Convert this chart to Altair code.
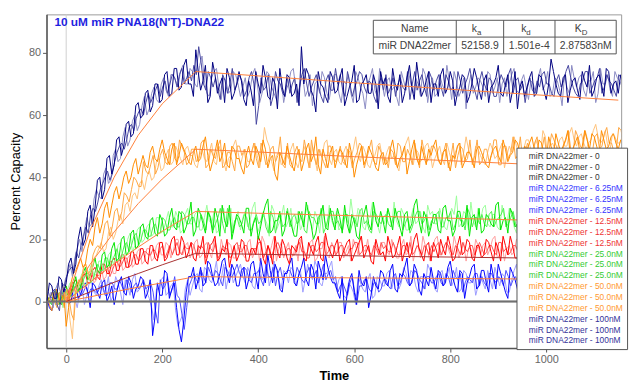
import altair as alt
import pandas as pd

# ---------------- data ----------------
T0, DT = -40, 10          # sampling grid of the sensorgrams (s); *_M arrays are the half-step samples
REP_OFFSET = [0, 3, 6]    # replicate time offsets (s)
CONC = ["0", "6.25nM", "12.5nM", "25.0nM", "50.0nM", "100nM"]

N100_A = [0,5,1,7,6,14,12,24,20,31, 30,40,36,47,44,53,50,58,54,64, 60,68,63,70,65,74,67,75,69,78,
          70,81,68,76,66,73,70,64,72,67, 74,65,71,63,70,76,66,72,62,69, 73,66,70,82,75,68,61,70,66,74,
          67,72,63,69,76,65,71,67,73,62, 70,66,75,68,64,72,69,77,66,71, 64,70,73,67,74,63,69,72,66,75,
          68,71,64,70,76,66,73,68,62,71, 69,74,67,72,65,78,70,66,73,68, 72,65,71,76,68,73,66,74,70,67]
N100_A_M = [6,1,8,3,12,9,20,18,29,24, 39,33,46,41,52,47,57,53,63,59, 67,61,70,64,73,66,75,68,76,70,
            66,74,71,64,77,67,72,75,65,70, 71,63,68,74,67,72,65,70,75,66, 72,67,63,70,73,66,74,69,64,72,
            68,75,66,71,64,70,73,67,70,74, 72,64,70,73,67,76,65,71,68,74, 70,66,75,69,71,67,73,64,70,72,
            65,73,69,72,67,70,64,74,69,66, 72,66,73,68,70,74,67,72,64,71, 68,74,69,66,72,70,75,67,71,73]
N100_B = [3,-2,6,2,9,8,17,16,27,25, 36,33,43,39,49,46,56,52,60,57, 66,62,69,64,72,66,73,69,76,70,
          74,69,79,67,72,75,65,71,68,73, 66,72,68,75,64,70,73,67,71,64, 70,75,65,72,68,63,71,74,67,70,
          73,64,70,67,74,69,62,72,68,75, 66,72,69,63,71,74,67,70,75,64, 72,67,70,76,65,71,68,62,73,69,
          71,66,73,69,64,72,70,75,67,73, 65,70,72,68,74,67,71,63,69,76, 69,73,66,71,64,75,70,68,74,71]
N100_B_M = [1,4,3,7,12,14,20,23,24,33, 34,41,38,47,45,53,50,58,55,63, 60,67,65,70,68,73,71,74,70,75,
            70,76,71,66,74,69,72,67,74,70, 69,66,73,70,67,74,69,65,72,68, 74,69,71,66,73,70,67,72,65,73,
            67,71,73,64,72,67,70,75,66,70, 71,68,66,74,68,70,72,66,73,69, 66,73,68,71,74,66,72,69,67,72,
            69,74,67,72,70,66,73,68,71,69, 71,67,75,70,66,72,68,73,67,72, 72,68,71,74,67,70,73,66,72,69]
N100_C = [1,4,-3,5,10,10,14,21,22,30, 32,38,42,41,48,51,52,57,59,62, 64,64,68,66,71,70,72,73,70,74,
          76,82,70,74,69,68,73,67,75,70, 71,68,74,57,72,69,63,74,70,66, 67,72,69,75,66,71,69,64,73,68,
          70,68,74,66,71,73,67,70,64,72, 73,69,66,72,68,65,74,71,69,74, 68,73,66,71,69,74,67,72,70,65,
          74,68,71,66,73,69,75,71,68,64, 72,67,69,74,70,66,73,71,76,69, 66,71,74,69,72,67,73,70,66,72]
N100_C_M = [3,-1,6,8,11,16,18,24,28,29, 36,40,39,45,50,49,56,55,61,60, 67,66,70,69,67,73,69,75,72,71,
            73,77,68,72,72,65,71,70,68,73, 66,72,70,63,68,73,66,71,67,72, 70,64,73,70,69,73,66,71,68,75,
            73,66,70,69,74,69,71,66,70,68, 67,72,70,69,74,70,68,73,66,72, 71,69,73,68,66,71,70,75,68,71,
            70,72,66,70,71,73,67,72,70,69, 68,71,73,70,67,71,69,74,72,67, 70,74,67,71,75,69,71,68,73,70]

N50_A = [2,-3,4,0,-8,6,10,14,12,20, 24,22,30,27,35,33,40,38,44,41, 47,43,50,45,52,46,49,44,51,47,
         44,50,46,53,42,48,45,51,43,49, 46,41,50,44,48,52,43,47,39,46, 50,44,47,42,49,45,53,41,46,48,
         43,49,45,51,40,47,44,50,46,42, 48,45,52,43,47,41,49,46,50,44, 47,52,44,49,42,46,51,45,48,43,
         50,46,43,49,47,52,45,48,51,46, 49,53,47,51,45,50,54,48,52,47, 51,48,55,49,53,47,52,50,54,49]
N50_A_M = [-1,2,1,3,-2,9,12,11,17,18, 27,25,32,31,37,36,42,40,46,44, 44,48,46,49,48,44,51,47,49,45,
           48,45,50,47,45,52,47,44,50,46, 43,47,46,50,45,49,46,41,48,44, 47,42,49,45,51,47,44,49,43,50,
           46,48,43,47,44,50,46,48,43,47, 44,49,47,46,50,45,52,44,47,49, 50,46,48,45,47,50,43,48,46,49,
           48,44,47,50,45,49,47,52,48,50, 51,49,52,48,53,47,51,50,55,49, 53,50,52,54,50,55,49,53,51,52]
N50_B = [0,3,-1,5,2,-12,4,8,11,9, 15,19,17,24,22,28,31,29,35,38, 36,42,40,46,43,49,45,48,44,50,
         47,43,49,45,51,44,48,42,47,52, 44,49,45,51,43,56,50,42,48,45, 46,51,43,48,45,50,42,47,52,44,
         49,44,50,46,53,45,48,43,47,51, 45,50,47,42,49,53,44,48,46,51, 43,48,46,51,45,49,44,53,47,50,
         47,44,51,46,49,43,50,53,46,49, 52,48,50,55,47,51,49,53,50,56, 50,54,49,52,57,51,55,49,53,51]
N50_B_M = [2,0,3,1,-6,2,6,12,7,14, 17,16,22,20,26,25,32,34,33,39, 40,39,45,42,47,44,50,46,49,47,
           44,47,46,48,45,50,45,46,50,48, 47,45,49,47,48,52,45,47,44,48, 49,45,47,50,43,46,49,51,46,48,
           45,48,47,49,47,50,44,46,50,47, 48,46,44,47,51,47,49,45,50,48, 46,50,44,48,47,51,48,49,45,49,
           45,48,49,47,51,47,48,50,49,52, 49,52,47,53,50,49,52,50,54,52, 53,51,51,55,53,52,50,54,51,53]
N50_C = [1,0,3,-2,1,-6,7,11,9,15, 18,21,26,24,30,29,34,36,39,37, 42,44,41,47,45,50,46,52,48,45,
         49,46,52,44,47,50,43,48,45,50, 47,43,48,46,51,44,49,45,53,43, 44,48,46,52,43,47,49,45,50,46,
         47,45,49,43,48,50,46,52,44,48, 46,49,44,50,45,47,51,43,48,46, 50,45,48,43,51,47,49,46,44,52,
         45,49,47,52,44,50,48,46,53,48, 48,51,46,53,49,52,47,50,55,48, 53,49,52,48,54,50,56,51,49,55]
N50_C_M = [3,-2,2,4,-4,5,6,12,10,17, 17,25,21,29,26,35,32,40,37,45, 41,47,43,49,44,51,45,50,44,49,
           45,51,43,49,46,52,44,48,42,50, 49,44,51,43,48,45,50,47,44,51, 43,50,45,48,52,44,47,43,50,45,
           50,44,48,46,51,43,49,45,50,44, 43,48,51,45,49,44,47,52,45,50, 48,44,51,46,43,50,45,52,47,44,
           49,45,52,44,50,46,53,47,45,51, 46,53,49,47,54,50,46,52,49,55, 50,55,47,53,49,54,51,48,56,50]

N25_A = [2,-1,4,1,5,2,8,5,11,8, 14,9,16,12,19,14,21,16,23,18, 25,20,27,21,26,22,30,23,28,24,
         32,23,28,22,27,30,21,26,31,24, 27,22,30,25,20,28,33,23,26,21, 29,24,21,27,32,25,22,28,24,30,
         23,27,31,22,26,20,28,25,32,24, 26,30,23,27,21,29,25,33,22,27, 24,28,22,31,26,23,29,25,21,28,
         30,23,27,24,32,26,22,28,25,31, 25,29,23,27,31,24,28,22,26,30, 27,24,30,26,22,29,25,31,27,24]
N25_A_M = [0,3,-1,4,1,5,3,9,7,11, 10,15,11,17,13,20,15,22,17,24, 21,26,22,28,21,27,24,29,22,27,
           21,30,25,29,22,27,31,24,20,28, 25,30,21,27,24,31,22,26,29,23, 27,21,29,24,28,20,27,31,23,26,
           30,22,25,28,21,27,31,23,26,29, 22,27,30,24,28,23,31,26,29,21, 28,23,30,26,21,29,24,31,27,23,
           22,28,25,31,23,27,30,24,21,27, 30,22,27,25,29,21,26,30,23,28, 23,29,25,22,28,24,30,26,23,28]
N25_B = [0,3,1,-2,4,6,3,9,6,12, 9,13,11,16,14,19,16,22,18,24, 20,25,22,27,23,29,24,27,23,30,
         25,29,23,31,25,22,28,24,30,26, 23,29,26,32,24,27,21,29,25,31, 26,22,29,25,31,23,27,30,24,26,
         29,24,27,33,25,29,23,27,30,22, 25,28,32,24,28,23,30,26,24,31, 29,25,27,23,30,34,25,28,32,24,
         26,31,24,28,23,27,30,24,29,26, 28,24,32,26,29,25,31,27,24,29, 25,30,27,32,26,28,24,30,26,29]
N25_B_M = [2,-1,3,1,6,2,7,5,10,8, 13,10,15,12,18,14,20,16,23,19, 24,21,27,22,26,24,29,22,28,25,
           28,23,27,26,29,23,30,25,22,29, 27,24,30,22,28,25,31,23,27,24, 30,25,23,28,26,29,22,26,31,24,
           23,28,25,27,30,24,28,32,25,27, 29,24,26,30,23,27,25,29,22,28, 25,30,24,27,28,24,29,23,26,30,
           30,25,28,24,31,25,28,22,27,31, 25,29,27,23,30,28,24,29,31,25, 28,24,31,26,29,23,28,25,31,27]
N25_C = [1,0,3,2,1,4,6,7,9,7, 12,10,14,13,17,15,19,18,22,20, 23,21,25,22,26,23,27,24,28,25,
         27,24,26,29,23,27,25,30,22,27, 25,27,23,28,26,24,29,22,28,25, 24,28,26,23,29,27,25,22,27,29,
         26,23,28,25,24,30,26,22,28,25, 28,24,27,29,25,22,27,29,26,23, 25,29,24,27,23,28,26,30,24,27,
         28,24,29,26,28,24,27,25,30,23, 26,28,25,30,24,27,29,25,28,26, 29,26,28,25,30,27,25,28,31,26]
N25_C_M = [3,2,-1,4,3,6,4,9,6,10, 10,14,11,15,13,18,16,21,18,23, 21,24,22,27,23,26,24,29,25,27,
           24,28,23,27,25,30,22,27,26,24, 28,23,26,25,29,22,27,26,24,30, 27,25,29,22,27,25,30,24,29,25,
           24,28,22,27,29,25,23,29,26,27, 25,27,29,23,27,24,29,25,28,26, 28,24,27,29,25,26,23,28,27,25,
           25,28,24,27,30,25,29,23,27,26, 28,24,29,26,25,29,26,28,23,29, 26,29,24,27,28,25,29,26,27,29]

N12_A = [2,0,4,-1,5,3,7,4,9,6, 11,7,12,9,14,10,15,11,16,12, 17,12,18,13,19,14,20,15,21,14,
         19,13,17,12,18,21,14,16,11,18, 15,19,13,17,21,14,18,12,16,20, 14,18,16,21,13,17,19,14,22,16,
         18,13,17,20,15,19,14,18,12,17, 16,21,14,18,13,19,16,22,15,18, 13,17,20,15,18,14,21,16,19,13,
         18,15,19,13,17,21,15,18,14,20, 16,20,14,18,22,15,19,13,17,21, 18,14,19,16,21,15,18,13,20,16]
N12_A_M = [0,3,1,4,2,6,4,8,6,10, 8,12,9,13,10,15,11,16,12,17, 13,18,14,19,13,17,21,15,19,16,
           14,18,21,15,19,13,17,20,15,13, 20,13,17,15,19,12,16,21,14,18, 12,17,20,14,19,15,21,13,18,14,
           20,15,19,13,17,21,16,13,20,15, 13,18,15,21,16,14,20,17,13,19, 19,14,17,21,13,18,15,20,14,18,
           14,20,16,19,13,18,21,14,19,16, 19,13,17,21,15,18,14,20,16,14, 14,19,16,20,13,18,15,21,16,19]
N12_B = [0,3,1,4,2,6,3,8,5,10, 7,11,8,13,9,14,11,15,12,17, 13,17,14,19,15,18,16,20,15,19,
         16,20,15,19,14,17,20,15,18,14, 18,14,20,16,13,19,15,21,17,14, 19,15,13,18,16,20,14,17,15,19,
         15,19,16,13,18,21,16,14,19,15, 19,15,18,14,20,16,13,18,21,16, 17,21,15,19,14,18,16,13,17,20,
         15,19,17,21,15,13,18,16,20,15, 18,15,20,16,13,18,21,16,14,19, 15,20,16,18,14,19,16,21,15,18]
N12_B_M = [2,0,3,1,5,3,7,4,9,6, 10,7,12,9,13,10,14,11,16,12, 17,13,18,15,19,14,20,16,18,14,
           19,14,18,16,20,13,17,19,14,18, 15,19,14,18,21,15,18,13,19,17, 14,18,20,15,19,13,17,21,14,17,
           19,14,18,20,15,17,20,15,17,19, 16,20,14,18,15,21,17,14,18,13, 20,15,18,16,21,14,19,17,14,18,
           18,15,20,14,19,17,15,20,13,18, 15,20,16,19,14,20,16,19,17,15, 19,16,21,14,18,15,20,14,19,16]
N12_C = [1,2,0,3,4,4,6,6,8,8, 10,9,11,10,13,12,14,12,15,14, 16,15,16,17,14,18,17,16,18,17,
         18,15,17,19,16,14,18,17,15,19, 16,18,15,17,19,16,14,18,17,15, 17,15,19,16,14,18,17,19,16,18,
         16,18,15,17,19,16,18,15,17,19, 18,16,17,15,18,19,16,17,18,15, 16,19,17,18,15,17,19,16,18,17,
         17,16,18,15,19,17,16,18,15,17, 19,17,16,18,15,17,18,16,19,17, 16,18,17,19,16,15,18,17,16,18]
N12_C_M = [0,3,2,1,5,3,7,5,9,7, 9,11,8,12,11,14,11,15,13,16, 15,17,14,18,16,15,19,15,17,19,
           15,18,14,17,19,15,17,14,18,16, 18,15,17,19,14,18,16,19,15,17, 15,18,16,14,18,16,19,15,18,15,
           18,15,17,19,15,18,16,18,15,17, 16,19,15,18,16,15,18,15,17,18, 18,15,19,16,18,15,17,18,15,19,
           15,18,16,19,16,15,18,16,18,15, 17,15,19,16,18,15,17,19,16,18, 18,15,19,16,18,17,15,19,17,16]

N6_A = [1,-3,3,-1,4,0,5,2,6,-2, 5,1,7,2,-1,6,3,8,1,5, 7,3,-11,6,2,9,4,-2,-13,3,
        8,4,11,6,12,5,9,14,6,10, 5,11,7,13,4,9,15,6,10,3, 9,14,5,11,7,12,4,10,15,8,
        6,1,-4,7,3,10,5,-2,8,4, 9,5,12,3,8,14,6,10,2,7, 11,4,9,6,13,5,10,1,8,12,
        5,10,3,8,12,6,1,9,4,11, 7,3,10,5,12,8,2,9,6,11, 4,9,6,12,3,8,11,5,10,7]
N6_A_M = [-2,2,0,3,-1,4,1,5,3,6, 3,6,0,5,3,8,2,6,4,8, 1,7,-5,2,10,1,6,-9,-6,8,
          11,7,5,13,8,6,13,9,12,5, 10,4,12,8,14,6,10,12,4,9, 12,6,9,14,5,10,13,7,11,6,
          3,8,2,9,-1,6,8,2,5,10, 6,10,4,9,11,5,12,4,9,5, 7,10,5,11,8,3,9,6,11,4,
          10,6,12,4,9,3,11,7,12,5, 9,6,11,4,9,5,12,7,10,4, 10,5,11,7,9,5,12,8,4,10]
N6_B = [0,2,-1,4,1,3,-2,5,2,6, 2,7,4,0,8,3,7,2,9,4, 6,1,-6,4,8,3,6,-8,-4,7,
        5,9,3,10,6,13,7,4,11,8, 12,6,9,4,11,8,5,13,7,10, 6,10,8,3,12,7,11,5,9,13,
        4,8,1,5,-1,6,3,9,2,7, 5,10,7,4,11,6,9,3,8,12, 7,3,10,8,5,11,4,9,6,2,
        9,4,7,11,5,8,3,10,7,5, 4,9,6,2,10,7,11,5,8,3, 8,5,10,6,3,9,7,12,5,9]
N6_B_M = [3,-1,2,0,4,1,3,-1,6,3, 5,3,8,2,6,-1,5,7,3,6, 3,-2,4,7,2,5,-3,-6,4,2,
          8,4,11,7,9,5,12,8,6,10, 8,11,5,9,7,12,8,10,4,9, 11,5,10,7,9,13,6,9,11,6,
          7,2,6,3,8,4,7,1,8,5, 9,4,8,6,9,10,5,8,4,10, 4,9,6,11,7,3,10,6,8,5,
          6,10,4,8,9,3,7,12,5,8, 7,11,4,8,6,12,9,4,10,6, 5,11,7,4,9,6,10,8,11,5]
N6_C = [2,0,1,2,3,1,4,3,2,4, 3,5,2,6,4,5,7,3,6,5, 4,6,-3,7,5,2,8,1,-9,5,
        9,6,8,11,7,9,5,10,8,12, 8,10,6,9,7,12,8,5,11,9, 10,7,9,6,11,8,6,12,9,7,
        3,6,2,8,0,5,7,3,6,4, 7,4,9,6,8,5,10,7,4,8, 6,9,5,8,10,7,3,8,6,9,
        8,5,9,6,7,10,5,8,6,3, 6,8,5,9,7,4,8,10,6,7, 7,10,5,8,6,9,4,8,7,6]
N6_C_M = [1,3,0,4,2,3,2,5,4,3, 5,2,6,4,7,3,6,5,4,7, 5,3,-7,4,8,4,2,-4,-2,7,
          7,10,6,9,10,7,11,8,10,9, 11,7,9,10,5,8,11,9,7,10, 8,11,7,9,8,10,9,7,10,8,
          5,4,6,3,5,7,4,6,3,7, 5,8,5,9,6,7,9,6,8,6, 8,6,9,5,8,9,6,7,9,5,
          6,9,7,8,5,8,7,6,9,7, 9,6,8,6,9,7,6,9,7,8, 8,6,9,5,9,7,8,6,9,7]

ZERO_T = [-41, 1156]
ZERO_V = [0, 0]

FIT_T = [0, 50, 100, 150, 200, 270, 400, 600, 800, 1000, 1150]
FIT_100 = [0, 23, 40, 53.5, 63.6, 74, 72.6, 70.4, 68.3, 66.3, 64.8]
FIT_50 = [0, 12, 22.4, 31.5, 39.4, 49, 48.1, 46.6, 45.3, 43.9, 42.9]
FIT_25 = [0, 6.3, 12.1, 17.5, 22.6, 29, 28.4, 27.6, 26.8, 26.0, 25.4]
FIT_12 = [0, 3.1, 6.2, 9.0, 11.8, 15.5, 15.2, 14.7, 14.3, 13.9, 13.6]
FIT_6 = [0, 1.5, 3.1, 4.6, 6.0, 8.0, 7.8, 7.6, 7.4, 7.2, 7.0]

TABLE_HEAD = ["Name", "k", "k", "K"]
TABLE_SUB = ["a", "d", "D"]
TABLE_ROW = ["miR DNA22mer", "52158.9", "1.501e-4", "2.87583nM"]
TITLE = "10 uM miR PNA18(N'T)-DNA22"
X_TICKS = [0, 200, 400, 600, 800, 1000]
Y_TICKS = [0, 20, 40, 60, 80]

# ---------------- styles ----------------
LINE_COLORS = {
    "0": ["#707070", "#707070", "#707070"],
    "6.25nM": ["#0000ff", "#9a9aff", "#4d4dff"],
    "12.5nM": ["#ff0000", "#ff9a9a", "#ff5050"],
    "25.0nM": ["#00e600", "#9aff9a", "#4df24d"],
    "50.0nM": ["#ff8c00", "#ffc27a", "#ffa640"],
    "100nM": ["#000080", "#8c8cc4", "#4646a0"],
}
FONT = "Liberation Sans"

series = {
    "6.25nM": [(N6_A, N6_A_M), (N6_B, N6_B_M), (N6_C, N6_C_M)],
    "12.5nM": [(N12_A, N12_A_M), (N12_B, N12_B_M), (N12_C, N12_C_M)],
    "25.0nM": [(N25_A, N25_A_M), (N25_B, N25_B_M), (N25_C, N25_C_M)],
    "50.0nM": [(N50_A, N50_A_M), (N50_B, N50_B_M), (N50_C, N50_C_M)],
    "100nM": [(N100_A, N100_A_M), (N100_B, N100_B_M), (N100_C, N100_C_M)],
}
rows = []
for conc, reps in series.items():
    for r in [1, 2, 0]:
        main, mid = reps[r]
        for i, (v, vm) in enumerate(zip(main, mid)):
            t = T0 + DT * i + REP_OFFSET[r]
            rows.append({"t": t, "v": v, "key": f"{conc}#{r+1}"})
            rows.append({"t": t + DT / 2, "v": vm, "key": f"{conc}#{r+1}"})
df = pd.DataFrame(rows)

zrows = []
for r in range(3):
    for t, v in zip(ZERO_T, ZERO_V):
        zrows.append({"t": t, "v": v, "key": f"0#{r+1}"})
dz = pd.DataFrame(zrows)

frows = []
for conc, vals in [("100nM", FIT_100), ("50.0nM", FIT_50), ("25.0nM", FIT_25), ("6.25nM", FIT_6)]:
    for t, v in zip(FIT_T, vals):
        frows.append({"t": t, "v": v, "conc": conc})
dfit = pd.DataFrame(frows)
dfit12 = pd.DataFrame({"t": FIT_T, "v": FIT_12, "conc": "12.5nM"})

domain = [f"{c}#{r}" for c in CONC for r in (1, 2, 3)]
rng = [LINE_COLORS[c][r - 1] for c in CONC for r in (1, 2, 3)]

xs = alt.Scale(domain=[-41, 1156], nice=False, zero=False)
ys = alt.Scale(domain=[-15, 92.4], nice=False, zero=False)

label_color_expr = (
    "indexof(datum.value,'100nM')>=0 ? '#333399' : "
    "indexof(datum.value,'50.0nM')>=0 ? '#ff9933' : "
    "indexof(datum.value,'25.0nM')>=0 ? '#33cc33' : "
    "indexof(datum.value,'12.5nM')>=0 ? '#ee3333' : "
    "indexof(datum.value,'6.25nM')>=0 ? '#3333ff' : '#333333'"
)

legend = alt.Legend(
    title=None, orient="none", legendX=476, legendY=135, direction="vertical",
    fillColor="white", strokeColor="#555555", padding=4,
    symbolSize=0, symbolOpacity=0, symbolStrokeWidth=0, labelOffset=0,
    labelFont=FONT, labelFontSize=8.5, rowPadding=2, labelLimit=200,
    labelExpr="'miR DNA22mer - ' + split(datum.label, '#')[0]",
    labelColor=alt.ExprRef(expr=label_color_expr),
)

x_enc = alt.X("t:Q", scale=xs, title="Time",
              axis=alt.Axis(values=X_TICKS, grid=False, format="d"))
y_enc = alt.Y("v:Q", scale=ys, title="Percent Capacity",
              axis=alt.Axis(values=Y_TICKS, grid=False, format="d"))

vline = alt.Chart(pd.DataFrame({"t": [0]})).mark_rule(color="#cfcfcf", strokeWidth=1).encode(
    x=alt.X("t:Q", scale=xs))

data_lines = alt.Chart(df).mark_line(strokeWidth=1, clip=True).encode(
    x=x_enc, y=y_enc,
    color=alt.Color("key:N", scale=alt.Scale(domain=domain, range=rng), legend=legend),
)

zero_lines = alt.Chart(dz).mark_line(strokeWidth=1.6, clip=True).encode(
    x=alt.X("t:Q", scale=xs), y=alt.Y("v:Q", scale=ys),
    color=alt.Color("key:N", scale=alt.Scale(domain=domain, range=rng), legend=legend),
)

fit_lines = alt.Chart(dfit).mark_line(strokeWidth=1, color="#ff7f3a", clip=True).encode(
    x=alt.X("t:Q", scale=xs), y=alt.Y("v:Q", scale=ys), detail="conc:N")
fit12 = alt.Chart(dfit12).mark_line(strokeWidth=1, color="#a83232", clip=True).encode(
    x=alt.X("t:Q", scale=xs), y=alt.Y("v:Q", scale=ys))

one = pd.DataFrame({"a": [0]})
tbl_box = alt.Chart(one).mark_rect(fill="white", stroke="#555555", strokeWidth=1).encode(
    x=alt.value(331), x2=alt.value(577), y=alt.value(6), y2=alt.value(40))
tbl_rules = alt.Chart(pd.DataFrame({
    "x": [331, 415, 463, 515], "x2": [577, 415, 463, 515],
    "y": [23, 6, 6, 6], "y2": [23, 40, 40, 40]})).mark_rule(color="#555555", strokeWidth=1).encode(
    x=alt.X("x:Q", scale=None), x2="x2:Q", y=alt.Y("y:Q", scale=None), y2="y2:Q")

head_pos = pd.DataFrame({"txt": TABLE_HEAD, "x": [373, 436, 486, 542], "al": ["c", "r", "r", "r"]})
tbl_head_c = alt.Chart(head_pos[head_pos.al == "c"]).mark_text(
    font=FONT, fontSize=10.5, color="#404040", align="center", baseline="alphabetic").encode(
    x=alt.X("x:Q", scale=None), y=alt.value(18), text="txt:N")
tbl_head_r = alt.Chart(head_pos[head_pos.al == "r"]).mark_text(
    font=FONT, fontSize=10.5, color="#404040", align="right", baseline="alphabetic").encode(
    x=alt.X("x:Q", scale=None), y=alt.value(18), text="txt:N")
tbl_sub = alt.Chart(pd.DataFrame({"txt": TABLE_SUB, "x": [436, 486, 542]})).mark_text(
    font=FONT, fontSize=8, color="#404040", align="left", baseline="alphabetic").encode(
    x=alt.X("x:Q", scale=None), y=alt.value(21), text="txt:N")
tbl_row = alt.Chart(pd.DataFrame({"txt": TABLE_ROW, "x": [373, 439, 489, 546]})).mark_text(
    font=FONT, fontSize=10.5, color="#404040", align="center", baseline="alphabetic").encode(
    x=alt.X("x:Q", scale=None), y=alt.value(35), text="txt:N")

title = alt.Chart(pd.DataFrame({"txt": [TITLE]})).mark_text(
    font=FONT, fontSize=12, fontWeight="bold", color="#1f1fe0", align="left",
    baseline="alphabetic").encode(x=alt.value(8), y=alt.value(12), text="txt:N")

shadow = alt.Chart(one).mark_rect(fill="#9a9a9a").encode(
    x=alt.value(479), x2=alt.value(580), y=alt.value(138), y2=alt.value(335))

chart = alt.layer(
    vline, data_lines, zero_lines, fit_lines, fit12,
    tbl_box, tbl_rules, tbl_head_c, tbl_head_r, tbl_sub, tbl_row, title, shadow,
).properties(
    width=582, height=338,
    padding={"left": 39, "top": 4, "right": 12, "bottom": 41},
    autosize=alt.AutoSizeParams(type="none"),
).configure_view(stroke="#9a9a9a", strokeWidth=1).configure_axis(
    domainColor="#555555", domainWidth=1.5, tickColor="#555555", tickSize=4,
    labelColor="#666666", labelFont=FONT, labelFontSize=11, labelPadding=2,
    titleFont=FONT, titleColor="black", titleFontSize=13, titleFontWeight="normal",
).configure_axisX(titlePadding=5, titleFontWeight="bold").configure_axisY(titlePadding=6)

chart.save("out.html", embed_options={"renderer": "svg", "actions": False})
